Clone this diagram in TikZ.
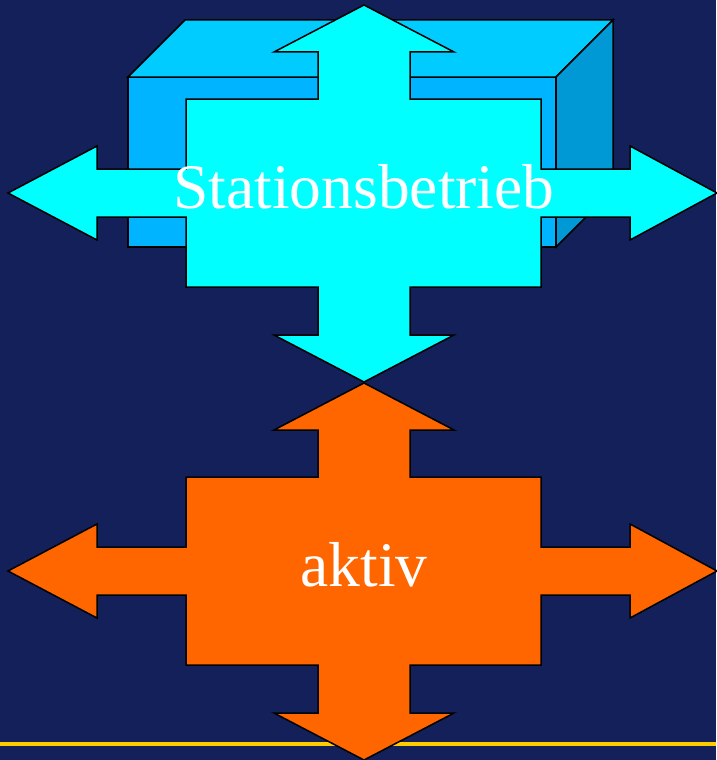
\documentclass[tikz,border=0pt]{standalone}
\usepackage{fontspec}
\setmainfont{Liberation Serif}
\definecolor{bgnavy}{RGB}{20,32,90}
\definecolor{boxtop}{RGB}{0,204,255}
\definecolor{boxfront}{RGB}{0,180,255}
\definecolor{boxside}{RGB}{0,153,214}
\definecolor{crosscyan}{RGB}{0,255,255}
\definecolor{crossorange}{RGB}{255,102,0}
\definecolor{lineyellow}{RGB}{255,204,0}
\tikzset{
  face/.style={draw=black, line width=1.5pt, line join=miter},
  crossshape/.style={draw=black, line width=1.5pt, line join=miter},
  labeltext/.style={text=white, inner sep=0pt, anchor=base, font=\fontsize{63.5}{70}\selectfont}
}
\newcommand{\crosspath}{(0,-188) -- (90,-141) -- (46,-141) -- (46,-94) -- (177,-94) -- (177,-24) -- (266,-24) -- (266,-47) -- (353,0) -- (266,47) -- (266,24) -- (177,24) -- (177,94) -- (46,94) -- (46,142) -- (90,142) -- (0,189) -- (-90,142) -- (-46,142) -- (-46,94) -- (-178,94) -- (-178,24) -- (-267,24) -- (-267,47) -- (-356,0) -- (-267,-47) -- (-267,-24) -- (-178,-24) -- (-178,-94) -- (-46,-94) -- (-46,-141) -- (-90,-141) -- cycle}
\begin{document}
\begin{tikzpicture}[x=1pt, y=-1pt]
\fill[bgnavy] (0,0) rectangle (716,760);
\useasboundingbox (0,0) rectangle (716,760);
% 3D box
\filldraw[face, fill=boxfront] (128,77) rectangle (556,247);
\filldraw[face, fill=boxtop] (128,77) -- (185,20) -- (613,20) -- (556,77) -- cycle;
\filldraw[face, fill=boxside] (556,77) -- (613,20) -- (613,190) -- (556,247) -- cycle;
% cyan cross
\begin{scope}[shift={(364,193)}]
\filldraw[crossshape, fill=crosscyan] \crosspath;
\end{scope}
\node[labeltext] (stat) at (364,208) {Stationsbetrieb};
% yellow line
\draw[lineyellow, line width=4pt] (0,743.5) -- (716,743.5);
% orange cross
\begin{scope}[shift={(364,571)}]
\filldraw[crossshape, fill=crossorange] \crosspath;
\end{scope}
\node[labeltext] (aktiv) at (364,586) {aktiv};
\end{tikzpicture}
\end{document}
